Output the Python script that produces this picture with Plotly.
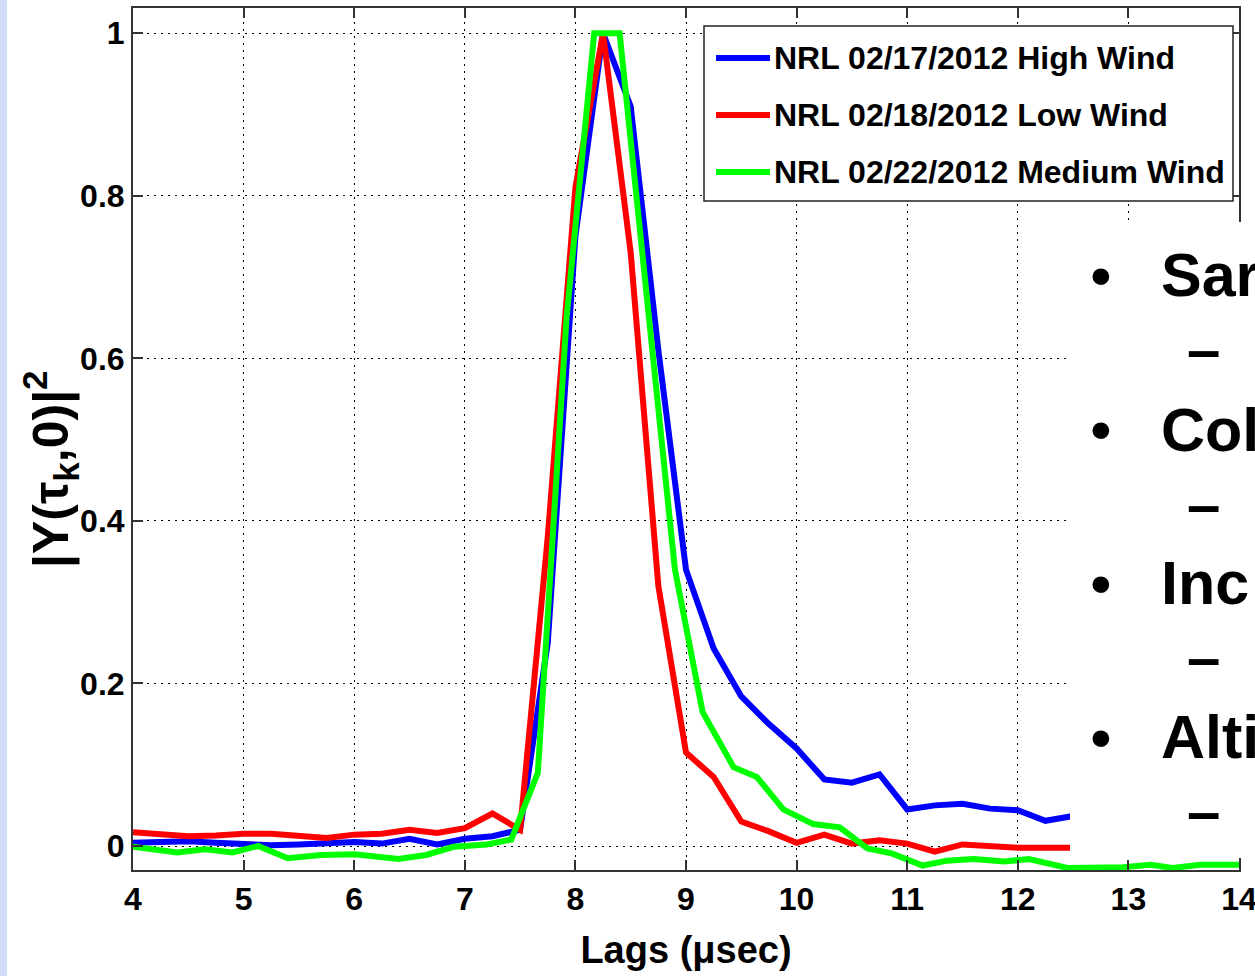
import plotly.graph_objects as go

# Lag axis (microseconds) and normalised |Y(tau_k,0)|^2 for each NRL pass
lags_high_low = [4.0, 4.25, 4.5, 4.75, 5.0, 5.25, 5.5, 5.75, 6.0, 6.25, 6.5, 6.75,
                 7.0, 7.25, 7.5, 7.75, 8.0, 8.25, 8.5, 8.75, 9.0, 9.25, 9.5, 9.75,
                 10.0, 10.25, 10.5, 10.75, 11.0, 11.25, 11.5, 11.75, 12.0, 12.25, 12.5]

high_wind = [0.004, 0.005, 0.006, 0.004, 0.003, 0.001, 0.002, 0.004, 0.005, 0.003, 0.009, 0.002,
             0.009, 0.012, 0.020, 0.25, 0.75, 1.0, 0.91, 0.61, 0.34, 0.243, 0.184, 0.150,
             0.120, 0.082, 0.078, 0.088, 0.045, 0.050, 0.052, 0.046, 0.044, 0.031, 0.037]

low_wind = [0.017, 0.015, 0.012, 0.013, 0.015, 0.015, 0.012, 0.010, 0.014, 0.015, 0.020, 0.016,
            0.022, 0.040, 0.020, 0.38, 0.81, 1.0, 0.73, 0.32, 0.115, 0.085, 0.030, 0.018,
            0.004, 0.014, 0.003, 0.007, 0.003, -0.007, 0.002, 0.000, -0.002, -0.002, -0.002]

lags_medium = [4.0, 4.4, 4.65, 4.9, 5.13, 5.4, 5.7, 6.0, 6.4, 6.65, 6.9, 7.2, 7.42, 7.5,
               7.66, 7.92, 8.17, 8.4, 8.5, 8.9, 9.15, 9.43, 9.64, 9.88, 10.15, 10.39,
               10.64, 10.86, 11.14, 11.36, 11.6, 11.88, 12.1, 12.45, 12.95, 13.2, 13.4,
               13.65, 14.0]

medium_wind = [-0.001, -0.008, -0.004, -0.008, 0.000, -0.015, -0.011, -0.010, -0.016, -0.011,
               -0.001, 0.002, 0.008, 0.035, 0.09, 0.65, 1.0, 1.0, 0.87, 0.34, 0.165, 0.097,
               0.085, 0.045, 0.027, 0.023, -0.003, -0.009, -0.024, -0.018, -0.016, -0.019,
               -0.016, -0.027, -0.026, -0.023, -0.027, -0.023, -0.023]

series_names = ["NRL 02/17/2012 High Wind", "NRL 02/18/2012 Low Wind", "NRL 02/22/2012 Medium Wind"]
series_colors = ["#0000ff", "#ff0000", "#00ff00"]

x_ticks = [4, 5, 6, 7, 8, 9, 10, 11, 12, 13, 14]
y_ticks = [0, 0.2, 0.4, 0.6, 0.8, 1]
y_tick_text = ["0", "0.2", "0.4", "0.6", "0.8", "1"]

bullet_words = ["Sar", "Col", "Inc", "Alti"]

FONT = "Liberation Sans, Arial, Helvetica, sans-serif"

W, H = 1255, 976
L, R, T, B = 133, 1239, 8, 870  # plot-area edges in page pixels


def px(x):
    return (x - L) / (R - L)


def py(y):
    return (B - y) / (B - T)


fig = go.Figure()
for xs, ys, name, color in [
    (lags_high_low, high_wind, series_names[0], series_colors[0]),
    (lags_high_low, low_wind, series_names[1], series_colors[1]),
    (lags_medium, medium_wind, series_names[2], series_colors[2]),
]:
    fig.add_trace(go.Scatter(x=xs, y=ys, mode="lines", name=name, showlegend=False,
                             line=dict(color=color, width=6)))

axis_common = dict(
    showline=True, linecolor="#333333", linewidth=2, mirror="allticks",
    ticks="inside", ticklen=10, tickwidth=1.5, tickcolor="#333333",
    showgrid=True, gridcolor="#000000", gridwidth=1, griddash="2px,5px",
    zeroline=False, ticklabeloverflow="allow", automargin=False,
    tickfont=dict(family=FONT, size=32, color="#000000", weight="bold"),
)

fig.update_xaxes(range=[4, 14], tickvals=x_ticks, ticktext=[str(v) for v in x_ticks],
                 title=dict(text="Lags (μsec)", standoff=20,
                            font=dict(family=FONT, size=38, color="#000000", weight="bold")),
                 **axis_common)
fig.update_yaxes(range=[-0.0295, 1.031], tickvals=y_ticks, ticktext=y_tick_text, **axis_common)

shapes = [
    # white panel carrying the slide bullets
    dict(type="rect", xref="paper", yref="paper", x0=px(1070), x1=px(W + 5), y0=py(858), y1=py(222),
         fillcolor="#ffffff", line=dict(width=0), layer="above"),
    # slide background strip on the left edge
    dict(type="rect", xref="paper", yref="paper", x0=px(-5), x1=px(7), y0=py(H + 5), y1=py(-5),
         fillcolor="#d2dcf6", line=dict(width=0), layer="above"),
    # legend frame
    dict(type="rect", xref="paper", yref="paper", x0=px(704), x1=px(1233), y0=py(201), y1=py(26),
         fillcolor="#ffffff", line=dict(color="#222222", width=1.5), layer="above"),
]

annotations = [
    dict(text="|Y(τ<sub>k</sub>,0)|<sup>2</sup>", xref="paper", yref="paper",
         x=px(50), y=py(469), xanchor="center", yanchor="middle", textangle=-90, showarrow=False,
         font=dict(family=FONT, size=50, color="#000000", weight="bold")),
]

# legend entries: colour sample plus label
legend_rows = [58, 115, 172]
for name, color, yc in zip(series_names, series_colors, legend_rows):
    shapes.append(dict(type="line", xref="paper", yref="paper", x0=px(716), x1=px(770),
                       y0=py(yc), y1=py(yc), line=dict(color=color, width=6), layer="above"))
    annotations.append(dict(text=name, xref="paper", yref="paper", x=px(772), y=py(yc),
                            xanchor="left", yanchor="middle", showarrow=False,
                            font=dict(family=FONT, size=32, color="#000000", weight="bold")))

bullet_y = [275, 430, 583, 737]
for word, yc in zip(bullet_words, bullet_y):
    annotations.append(dict(text="•", xref="paper", yref="paper", x=px(1101), y=py(yc),
                            xanchor="center", yanchor="middle", showarrow=False,
                            font=dict(family=FONT, size=62, color="#000000")))
    annotations.append(dict(text=word, xref="paper", yref="paper", x=px(1159), y=py(yc),
                            xanchor="left", yanchor="middle", showarrow=False,
                            font=dict(family=FONT, size=61, color="#000000", weight="bold")))
    annotations.append(dict(text="–", xref="paper", yref="paper", x=px(1203), y=py(yc + 74),
                            xanchor="center", yanchor="middle", showarrow=False,
                            font=dict(family=FONT, size=60, color="#000000", weight="bold")))

fig.update_layout(
    width=W, height=H,
    margin=dict(l=L, r=W - R, t=T, b=H - B, autoexpand=False),
    paper_bgcolor="#ffffff", plot_bgcolor="#ffffff",
    shapes=shapes, annotations=annotations,
    showlegend=False,
)

fig.write_html("out.html")
